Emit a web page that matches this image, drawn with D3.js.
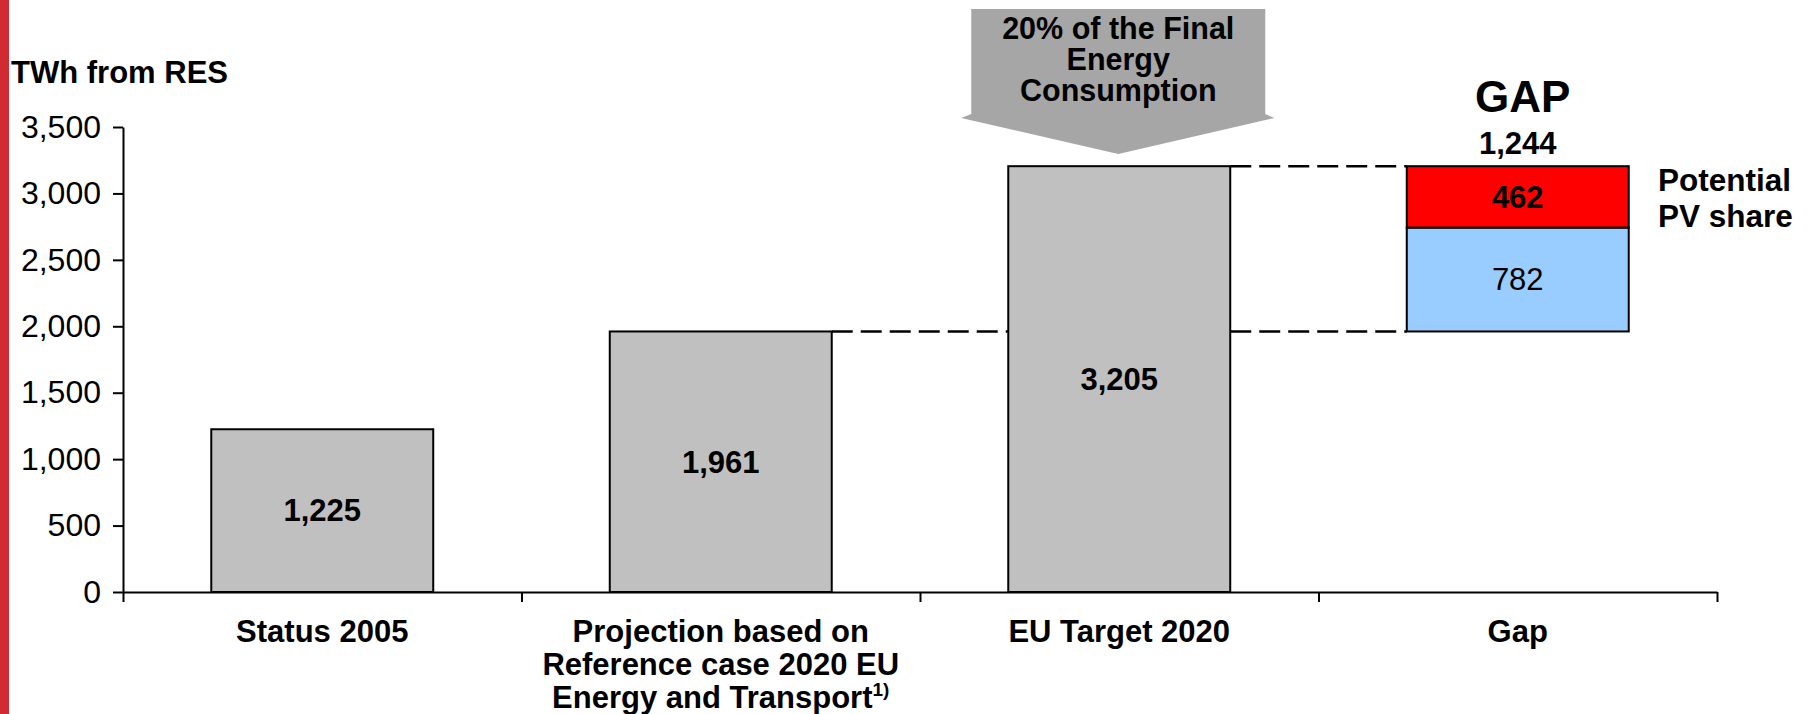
<!DOCTYPE html>
<html>
<head>
<meta charset="utf-8">
<script src="https://cdn.jsdelivr.net/npm/d3@7"></script>
<style>
  html, body { margin: 0; padding: 0; background: #ffffff; }
  svg text { font-family: "Liberation Sans", Arial, Helvetica, sans-serif; fill: #000; }
</style>
</head>
<body>
<svg id="chart" width="1809" height="714"></svg>
<script>
// ---------- data ----------
const categories = ["Status 2005", "Projection", "EU Target 2020", "Gap"];
const categoryLabelLines = [
  ["Status 2005"],
  ["Projection based on", "Reference case 2020 EU", "Energy and Transport"],
  ["EU Target 2020"],
  ["Gap"]
];
const barCategories = ["Status 2005", "Projection", "EU Target 2020"];
const barValues = [1225, 1961, 3205];
const barLabels = ["1,225", "1,961", "3,205"];
const gapSegmentNames = ["Other RES", "Potential PV share"];
const gapSegmentValues = [782, 462];
const gapSegmentColors = ["#99ccff", "#ff0000"];
const gapTotalLabel = "1,244";
const yTickValues = [0, 500, 1000, 1500, 2000, 2500, 3000, 3500];
const yTitle = "TWh from RES";
const arrowLines = ["20% of the Final", "Energy", "Consumption"];
const pvLabelLines = ["Potential", "PV share"];

// ---------- layout ----------
const svg = d3.select("#chart");
const X0 = 123, X1 = 1717, Y0 = 592, Y1 = 127;
const FS = 31;

const x = d3.scaleBand().domain(categories).range([X0, X1])
  .paddingInner(0.443).paddingOuter(0.2215);
const y = d3.scaleLinear().domain([0, 3500]).range([Y0, Y1]);
const bandCenter = c => x(c) + x.bandwidth() / 2;

// left red stripe
svg.append("rect").attr("x", 0).attr("y", 0).attr("width", 9).attr("height", 714).attr("fill", "#d12a32");

// dashed connector lines
const dash = svg.append("g").attr("stroke", "#000").attr("stroke-width", 2.5)
  .attr("stroke-dasharray", "21,8").attr("fill", "none");
function connector(c1, c2, v) {
  dash.append("line")
    .attr("x1", x(c1) + x.bandwidth()).attr("x2", x(c2))
    .attr("y1", y(v)).attr("y2", y(v));
}
connector("Projection", "EU Target 2020", barValues[1]);
connector("EU Target 2020", "Gap", barValues[1]);
connector("EU Target 2020", "Gap", barValues[2]);

// bars
svg.append("g").selectAll("rect").data(barCategories).join("rect")
  .attr("x", d => x(d)).attr("width", x.bandwidth())
  .attr("y", (d, i) => y(barValues[i]))
  .attr("height", (d, i) => y(0) - y(barValues[i]))
  .attr("fill", "#c0c0c0").attr("stroke", "#000").attr("stroke-width", 2);

svg.append("g").selectAll("text").data(barCategories).join("text")
  .attr("x", d => bandCenter(d))
  .attr("y", (d, i) => (y(0) + y(barValues[i])) / 2)
  .attr("dy", "0.35em").attr("text-anchor", "middle")
  .attr("font-size", FS).attr("font-weight", "bold")
  .text((d, i) => barLabels[i]);

// gap stacked bar
let acc = barValues[1];
const segs = gapSegmentValues.map((v, i) => { const s = { lo: acc, hi: acc + v, v, i }; acc += v; return s; });
svg.append("g").selectAll("rect").data(segs).join("rect")
  .attr("x", x("Gap")).attr("width", x.bandwidth())
  .attr("y", d => y(d.hi)).attr("height", d => y(d.lo) - y(d.hi))
  .attr("fill", d => gapSegmentColors[d.i]).attr("stroke", "#000").attr("stroke-width", 2);
svg.append("g").selectAll("text").data(segs).join("text")
  .attr("x", bandCenter("Gap")).attr("y", d => (y(d.lo) + y(d.hi)) / 2)
  .attr("dy", "0.35em").attr("text-anchor", "middle")
  .attr("font-size", FS).attr("font-weight", d => d.i === 1 ? "bold" : "normal")
  .text(d => d3.format(",")(d.v));

svg.append("text").attr("x", bandCenter("Gap") + 5).attr("y", 112)
  .attr("text-anchor", "middle").attr("font-size", 44).attr("font-weight", "bold").text("GAP");
svg.append("text").attr("x", bandCenter("Gap")).attr("y", 154)
  .attr("text-anchor", "middle").attr("font-size", FS).attr("font-weight", "bold").text(gapTotalLabel);

svg.append("g").selectAll("text").data(pvLabelLines).join("text")
  .attr("x", 1658).attr("y", (d, i) => 191 + i * 36)
  .attr("font-size", 31.5).attr("font-weight", "bold").text(d => d);

// y axis
const yAxis = d3.axisLeft(y).tickValues(yTickValues).tickFormat(d3.format(","))
  .tickSizeInner(10).tickSizeOuter(0).tickPadding(12);
const gy = svg.append("g").attr("transform", `translate(${X0},0)`).call(yAxis);
gy.selectAll("path, line").attr("stroke", "#000").attr("stroke-width", 2);
gy.selectAll("text").attr("font-size", 32).attr("font-family", null).attr("fill", "#000");

// x axis (category boundaries)
const xb = d3.scaleLinear().domain([0, categories.length]).range([X0, X1]);
const xAxis = d3.axisBottom(xb).tickValues(d3.range(categories.length + 1))
  .tickFormat("").tickSizeInner(10).tickSizeOuter(0);
const gx = svg.append("g").attr("transform", `translate(0,${Y0})`).call(xAxis);
gx.selectAll("path, line").attr("stroke", "#000").attr("stroke-width", 2);

// category labels
const cl = svg.append("g");
categories.forEach((c, i) => {
  categoryLabelLines[i].forEach((line, j) => {
    const t = cl.append("text").attr("x", bandCenter(c)).attr("y", 642 + j * 33)
      .attr("text-anchor", "middle").attr("font-size", FS).attr("font-weight", "bold")
      .text(line);
    if (i === 1 && j === 2) {
      t.append("tspan").attr("font-size", 19).attr("dy", -12).text("1)");
    }
  });
});

// y title
svg.append("text").attr("x", 11).attr("y", 83).attr("font-size", FS).attr("font-weight", "bold").text(yTitle);

// arrow callout
const ac = bandCenter("EU Target 2020") - 1;
const arrowPts = [
  [ac - 147, 9], [ac + 147, 9], [ac + 147, 114], [ac + 156, 118],
  [ac, 154], [ac - 157, 118], [ac - 147, 114]
];
svg.append("path").attr("d", d3.line()(arrowPts) + "Z").attr("fill", "#a6a6a6");
svg.append("g").selectAll("text").data(arrowLines).join("text")
  .attr("x", ac).attr("y", (d, i) => 39 + i * 31)
  .attr("text-anchor", "middle").attr("font-size", 30.5).attr("font-weight", "bold").text(d => d);
</script>
</body>
</html>
